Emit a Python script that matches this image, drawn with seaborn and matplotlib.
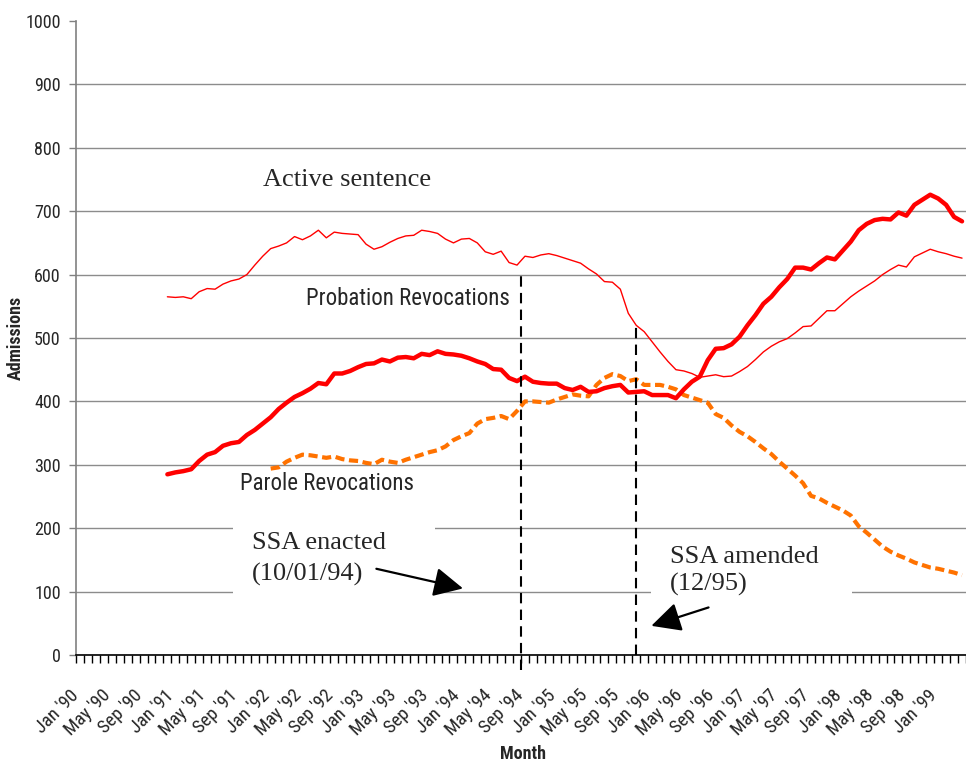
import matplotlib
matplotlib.use("Agg")
import matplotlib.pyplot as plt
import matplotlib.patches as mpatches
import matplotlib.ticker as mticker
import matplotlib.transforms as mtransforms
import seaborn as sns
import numpy as np
import pandas as pd

# 월 인덱스: 0 = Jan '90 ... 111 = Apr '99 (12개월 이동평균)
N_MONTHS = 112
TICK_LABELS = ["Jan '90", "May '90", "Sep '90", "Jan '91", "May '91", "Sep '91",
               "Jan '92", "May '92", "Sep '92", "Jan '93", "May '93", "Sep '93",
               "Jan '94", "May '94", "Sep '94", "Jan '95", "May '95", "Sep '95",
               "Jan '96", "May '96", "Sep '96", "Jan '97", "May '97", "Sep '97",
               "Jan '98", "May '98", "Sep '98", "Jan '99"]

ACTIVE_START = 11
active = [565, 564, 565, 562, 573, 578, 577, 585, 590, 593, 600, 615, 629, 641, 645,
          650, 660, 655, 661, 670, 658, 667, 665, 664, 663, 648, 640, 644, 651, 657,
          661, 662, 670, 668, 665, 656, 650, 656, 657, 650, 636, 632, 637, 619, 615,
          629, 627, 631, 633, 630, 626, 622, 618, 609, 601, 589, 588, 577, 539, 520,
          510, 494, 478, 463, 450, 448, 444, 438, 440, 442, 439, 440, 447, 455, 466,
          478, 487, 494, 499, 508, 518, 519, 531, 543, 543, 554, 565, 574, 582, 590,
          600, 608, 615, 612, 628, 634, 640, 636, 633, 629, 626]

PROBATION_START = 11
probation = [285, 288, 290, 293, 306, 316, 320, 330, 334, 336, 347, 355, 365, 375, 388,
             398, 407, 413, 420, 429, 427, 444, 444, 448, 454, 459, 460, 466, 463, 469,
             470, 468, 475, 473, 479, 475, 474, 472, 468, 463, 459, 451, 450, 437, 432,
             439, 431, 429, 428, 428, 421, 418, 423, 415, 416, 421, 424, 426, 414, 415,
             416, 410, 410, 410, 405, 419, 431, 439, 465, 483, 484, 490, 502, 520, 536,
             554, 565, 580, 593, 611, 611, 608, 618, 627, 624, 638, 652, 670, 680, 686,
             688, 687, 698, 693, 710, 718, 726, 720, 710, 691, 684]

PAROLE_START = 24
parole = [294, 296, 305, 311, 316, 315, 313, 311, 313, 309, 307, 306, 303, 301, 308,
          305, 303, 308, 312, 316, 320, 323, 329, 339, 345, 350, 365, 372, 374, 377,
          372, 385, 400, 400, 399, 398, 403, 407, 411, 409, 408, 426, 437, 443, 440,
          432, 435, 426, 426, 426, 423, 419, 410, 406, 402, 398, 380, 374, 362, 352,
          345, 336, 326, 317, 305, 294, 283, 271, 251, 247, 240, 234, 228, 220, 203,
          193, 182, 171, 163, 157, 152, 146, 142, 138, 136, 133, 130, 126]

# 법 시행/개정 시점 (월 인덱스)
ENACTED_X = 55.5
AMENDED_X = 70.0

def series_frame(values, start):
    return pd.DataFrame({"month": np.arange(start, start + len(values)), "admissions": values})

sns.set_theme(style="white")
plt.rcParams["font.family"] = ["Roboto Condensed", "DejaVu Sans"]

fig = plt.figure(figsize=(9.66, 7.63), dpi=100)
ax = fig.add_axes([76 / 966, 1 - 655 / 763, 890 / 966, 634 / 763])

red = "#FF0000"
orange = "#FF7200"

sns.lineplot(data=series_frame(active, ACTIVE_START), x="month", y="admissions",
             ax=ax, color=red, lw=1.0, zorder=3)
sns.lineplot(data=series_frame(probation, PROBATION_START), x="month", y="admissions",
             ax=ax, color=red, lw=3.2, zorder=4)
sns.lineplot(data=series_frame(parole, PAROLE_START), x="month", y="admissions",
             ax=ax, color=orange, lw=3.0, zorder=3)
ax.lines[-1].set_dashes((2.2, 1.1))

ax.set_xlim(-0.5, N_MONTHS - 0.5)
ax.set_ylim(0, 1000)

# y축
ax.set_yticks(np.arange(0, 1001, 100))
ax.tick_params(axis="y", which="major", direction="out", length=5, width=1,
               color="#808080", labelsize=13, pad=6, left=True)
ax.yaxis.grid(True, color="#8c8c8c", lw=1)
ax.get_ygridlines()[-1].set_visible(False)
ax.set_axisbelow(True)

# x축: 월 경계마다 눈금, 4개월마다 라벨
ax.xaxis.set_major_locator(mticker.FixedLocator(np.arange(0, N_MONTHS, 4)))
ax.set_xticklabels(TICK_LABELS, rotation=45, ha="right", va="center", rotation_mode="anchor")
ax.xaxis.set_minor_locator(mticker.FixedLocator(np.arange(-0.5, N_MONTHS, 1)))
ax.tick_params(axis="x", which="major", length=0, labelsize=13.5, pad=27)
ax.tick_params(axis="x", which="minor", direction="out", length=6, width=1,
               color="black", bottom=True)
shift = mtransforms.ScaledTranslation(-4 / 100, 0, fig.dpi_scale_trans)
for lab in ax.get_xticklabels():
    lab.set_transform(lab.get_transform() + shift)

for s in ["top", "right"]:
    ax.spines[s].set_visible(False)
ax.spines["left"].set_color("#808080")
ax.spines["left"].set_linewidth(1.2)
ax.spines["bottom"].set_color("black")
ax.spines["bottom"].set_linewidth(1.2)

ax.set_xlabel("Month", fontsize=13, fontweight="bold")
ax.set_ylabel("Admissions", fontsize=13, fontweight="bold")
ax.xaxis.set_label_coords(0.502, -0.142)
ax.yaxis.set_label_coords(-0.057, 0.5)

# 시점 표시 점선
ax.plot([ENACTED_X, ENACTED_X], [-24, 602], color="black", lw=1.5,
        dashes=(5, 3), clip_on=False, zorder=5)
ax.plot([AMENDED_X, AMENDED_X], [0, 520], color="black", lw=1.5,
        dashes=(5, 3), clip_on=False, zorder=5)

# 흰 배경 박스 (격자선 가림)
ax.add_patch(mpatches.Rectangle((19.25, 75), 25.45, 150, fc="white", ec="none", zorder=1))
ax.add_patch(mpatches.Rectangle((71.8, 70), 25.4, 112, fc="white", ec="none", zorder=1))

serif = ["Liberation Serif", "DejaVu Serif"]
ax.text(23.0, 749, "Active sentence", fontsize=19, family=serif, va="center", ha="left")
ax.text(28.4, 563, "Probation Revocations", fontsize=16.5, va="center", ha="left")
ax.text(20.1, 270, "Parole Revocations", fontsize=16.5, va="center", ha="left")

ax.text(21.6, 177, "SSA enacted", fontsize=19, family=serif, va="center", ha="left", zorder=6)
ax.text(21.6, 127, "(10/01/94)", fontsize=19, family=serif, va="center", ha="left", zorder=6)
ax.text(74.2, 154, "SSA amended", fontsize=19, family=serif, va="center", ha="left", zorder=6)
ax.text(74.2, 111, "(12/95)", fontsize=19, family=serif, va="center", ha="left", zorder=6)

arrow = dict(arrowstyle="-|>,head_length=0.9,head_width=0.45", color="black",
             lw=1.6, mutation_scale=20, shrinkA=0, shrinkB=0)
ax.annotate("", xy=(48.2, 105), xytext=(37.3, 136), arrowprops=arrow, zorder=6)
ax.annotate("", xy=(71.9, 46), xytext=(79.1, 75), arrowprops=arrow, zorder=6)

fig.savefig("out.png", dpi=100)
